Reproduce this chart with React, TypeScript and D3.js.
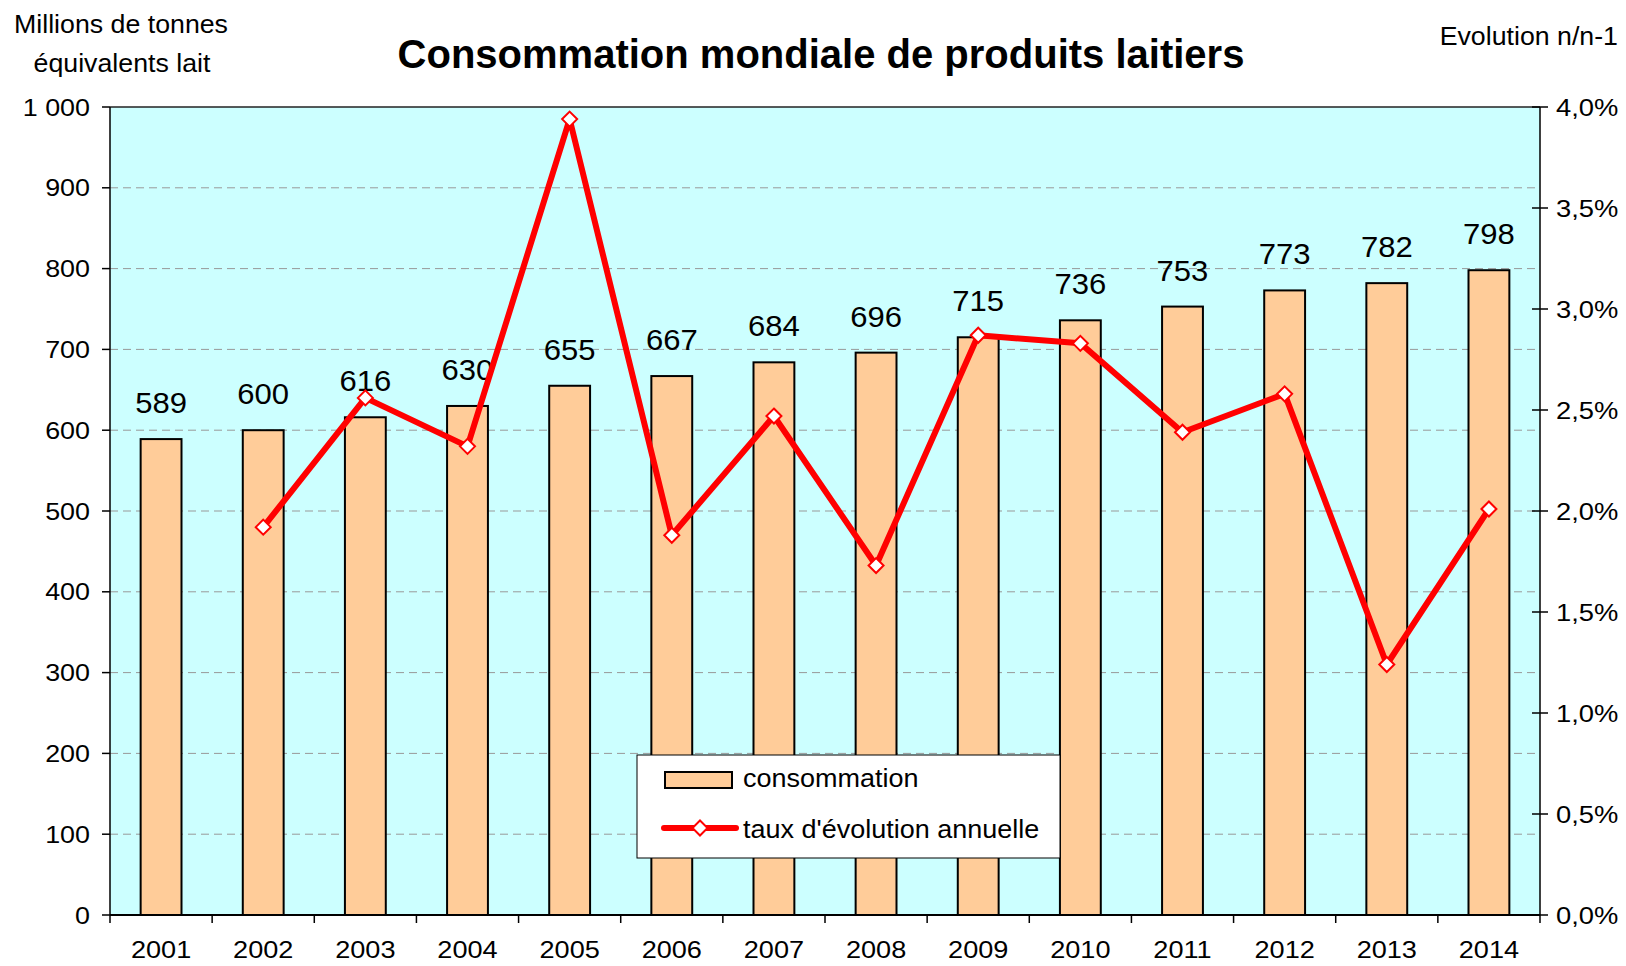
import React from 'react';
import * as d3 from 'd3';

// données
const years = ['2001', '2002', '2003', '2004', '2005', '2006', '2007', '2008', '2009', '2010', '2011', '2012', '2013', '2014'];
const consommation = [589, 600, 616, 630, 655, 667, 684, 696, 715, 736, 753, 773, 782, 798];
// taux d'évolution annuelle en %, pas de valeur pour 2001
const evolution: (number | null)[] = [null, 1.92, 2.56, 2.32, 3.94, 1.88, 2.47, 1.73, 2.87, 2.83, 2.39, 2.58, 1.24, 2.01];
const leftTicks = [0, 100, 200, 300, 400, 500, 600, 700, 800, 900, 1000];
const rightTicks = [0, 0.5, 1, 1.5, 2, 2.5, 3, 3.5, 4];

const W = 1626;
const H = 966;
const margin = { top: 107, right: 86, bottom: 51, left: 110 };
const FONT = '"Liberation Sans", Arial, sans-serif';

const fr = d3.formatLocale({ decimal: ',', thousands: ' ', grouping: [3], currency: ['', ' €'] });
const fmtInt = fr.format(',d');
const fmtPct = fr.format('.1f');

const diamond = (cx: number, cy: number, r: number) =>
    `M${cx},${cy - r}L${cx + r},${cy}L${cx},${cy + r}L${cx - r},${cy}Z`;

// texte un peu élargi, comme le rendu d'Excel
const T = ({ x, y, size, sx = 1, anchor = 'start', dy, bold, children }: {
    x: number; y: number; size: number; sx?: number; anchor?: string; dy?: string; bold?: boolean; children: React.ReactNode;
}) => (
    <text transform={`translate(${x},${y}) scale(${sx},1)`} dy={dy} textAnchor={anchor}
        fontSize={size} fontWeight={bold ? 'bold' : 'normal'} fill="#000">{children}</text>
);

const App = () => {
    const x0 = margin.left;
    const x1 = W - margin.right;
    const y0 = H - margin.bottom;
    const y1 = margin.top;

    const x = d3.scaleBand<string>().domain(years).range([x0, x1]).paddingInner(0).paddingOuter(0);
    const yL = d3.scaleLinear().domain([0, 1000]).range([y0, y1]);
    const yR = d3.scaleLinear().domain([0, 4]).range([y0, y1]);

    const bw = x.bandwidth() * 0.4;
    const cx = (d: string) => (x(d) ?? 0) + x.bandwidth() / 2;

    const pts = years
        .map((yr, i) => ({ yr, v: evolution[i] }))
        .filter(p => p.v !== null) as { yr: string; v: number }[];

    const line = d3.line<{ yr: string; v: number }>()
        .x(p => cx(p.yr))
        .y(p => yR(p.v));

    return (
        <svg width={W} height={H} style={{ position: 'absolute', left: 0, top: 0, background: '#fff' }}
            fontFamily={FONT}>
            {/* zone de tracé */}
            <rect x={x0} y={y1} width={x1 - x0} height={y0 - y1} fill="#CCFFFF" />

            {/* grille */}
            {leftTicks.filter(t => t > 0 && t < 1000).map(t => (
                <line key={'g' + t} x1={x0} x2={x1} y1={yL(t)} y2={yL(t)}
                    stroke="#999" strokeWidth={1} strokeDasharray="8,5" />
            ))}

            {/* barres */}
            {years.map((yr, i) => (
                <rect key={'b' + yr} x={cx(yr) - bw / 2} y={yL(consommation[i])}
                    width={bw} height={y0 - yL(consommation[i])}
                    fill="#FFCC99" stroke="#000" strokeWidth={2} />
            ))}

            {/* étiquettes des barres */}
            {years.map((yr, i) => (
                <T key={'l' + yr} x={cx(yr)} y={yL(consommation[i]) - 26} anchor="middle" size={29} sx={1.07}>
                    {consommation[i]}
                </T>
            ))}

            {/* bordure haut */}
            <line x1={x0} x2={x1} y1={y1} y2={y1} stroke="#222" strokeWidth={1.5} />

            {/* axe gauche */}
            <line x1={x0} x2={x0} y1={y1} y2={y0} stroke="#000" strokeWidth={1.5} />
            {leftTicks.map(t => (
                <g key={'yl' + t}>
                    <line x1={x0 - 8} x2={x0} y1={yL(t)} y2={yL(t)} stroke="#000" strokeWidth={1.5} />
                    <T x={90} y={yL(t)} dy="0.36em" anchor="end" size={24} sx={1.12}>{fmtInt(t)}</T>
                </g>
            ))}

            {/* axe droit */}
            <line x1={x1} x2={x1} y1={y1} y2={y0} stroke="#000" strokeWidth={1.5} />
            {rightTicks.map(t => (
                <g key={'yr' + t}>
                    <line x1={x1 - 8} x2={x1 + 8} y1={yR(t)} y2={yR(t)} stroke="#000" strokeWidth={1.5} />
                    <T x={1556} y={yR(t)} dy="0.36em" size={24} sx={1.14}>{fmtPct(t)}%</T>
                </g>
            ))}

            {/* axe bas */}
            <line x1={x0} x2={x1} y1={y0} y2={y0} stroke="#000" strokeWidth={2} />
            {years.concat(['end']).map((yr, i) => {
                const px = x0 + i * x.bandwidth();
                return <line key={'xt' + i} x1={px} x2={px} y1={y0} y2={y0 + 8} stroke="#000" strokeWidth={1.5} />;
            })}
            {years.map(yr => (
                <T key={'xl' + yr} x={cx(yr)} y={958} anchor="middle" size={24} sx={1.13}>{yr}</T>
            ))}

            {/* courbe d'évolution */}
            <path d={line(pts) ?? ''} fill="none" stroke="#FF0000" strokeWidth={6} strokeLinejoin="round" />
            {pts.map(p => (
                <path key={'m' + p.yr} d={diamond(cx(p.yr), yR(p.v), 7.5)} fill="#fff" stroke="#FF0000" strokeWidth={2} />
            ))}

            {/* légende */}
            <g>
                <rect x={637} y={755} width={423} height={103} fill="#fff" stroke="#000" strokeWidth={1} />
                <rect x={665} y={772} width={67} height={16} fill="#FFCC99" stroke="#000" strokeWidth={2} />
                <T x={743} y={787} size={25} sx={1.08}>consommation</T>
                <line x1={664} x2={736} y1={828} y2={828} stroke="#FF0000" strokeWidth={6} strokeLinecap="round" />
                <path d={diamond(700, 828, 7.5)} fill="#fff" stroke="#FF0000" strokeWidth={2} />
                <T x={743} y={838} size={25} sx={1.08}>taux d'évolution annuelle</T>
            </g>

            {/* titres */}
            <T x={821} y={68} anchor="middle" size={40} bold>Consommation mondiale de produits laitiers</T>
            <T x={121} y={33} anchor="middle" size={25} sx={1.07}>Millions de tonnes</T>
            <T x={122} y={72} anchor="middle" size={25} sx={1.07}>équivalents lait</T>
            <T x={1618} y={45} anchor="end" size={25} sx={1.07}>Evolution n/n-1</T>
        </svg>
    );
};

export default App;
